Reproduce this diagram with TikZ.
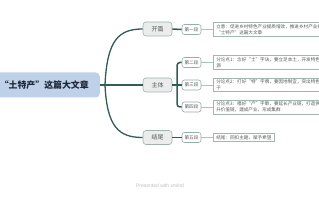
\documentclass[tikz,border=0pt]{standalone}
\usepackage{fontspec}
\setmainfont{Noto Sans CJK SC}
\newfontfamily\wmfont{Liberation Sans}
\definecolor{rootblue}{RGB}{190,209,233}
\definecolor{roottext}{RGB}{30,40,55}
\definecolor{darkteal}{RGB}{47,93,87}
\definecolor{lvfill}{RGB}{234,237,236}
\definecolor{lvborder}{RGB}{160,178,174}
\definecolor{segborder}{RGB}{150,175,170}
\definecolor{tborder}{RGB}{165,180,177}
\definecolor{ttext}{RGB}{85,90,90}
\definecolor{thinline}{RGB}{178,192,189}
\definecolor{wmgrey}{RGB}{190,190,190}
\begin{document}
\begin{tikzpicture}[x=1pt,y=-1pt,
  rootbox/.style={fill=rootblue, rounded corners=4pt, inner xsep=11pt, inner ysep=0pt,
    minimum height=25pt, text=roottext, font=\fontsize{8.9}{9.5}\selectfont\bfseries},
  lvone/.style={fill=lvfill, draw=lvborder, line width=0.6pt, rounded corners=3pt,
    minimum width=29pt, minimum height=14pt, inner sep=0pt, text=ttext,
    font=\fontsize{6}{7}\selectfont},
  seg/.style={fill=white, draw=segborder, line width=0.6pt, rounded corners=2.5pt,
    minimum width=19pt, minimum height=10pt, inner sep=0pt, text=ttext,
    font=\fontsize{4.6}{5}\selectfont},
  tbox/.style={fill=white, draw=tborder, line width=0.5pt, align=left, anchor=west,
    inner xsep=3pt, inner ysep=1.6pt, text=ttext, font=\fontsize{4.6}{6}\selectfont},
  mainline/.style={draw=darkteal, line width=1.3pt},
  branch/.style={draw=darkteal, line width=1.5pt, rounded corners=3pt},
  thinconn/.style={draw=thinline, line width=0.6pt},
  wm/.style={text=wmgrey, font=\wmfont\fontsize{5}{6}\selectfont}
]
\useasboundingbox (0,0) rectangle (319,200);
\clip (0,0) rectangle (319,200);
\fill[white] (0,0) rectangle (319,200);

% root
\node[rootbox, anchor=east] (root) at (100,85) {写好“土特产”这篇大文章};

% level one
\node[lvone] (kp) at (157.5,29) {开篇};
\node[lvone] (zt) at (157.5,85) {主体};
\node[lvone] (jw) at (157.5,137.5) {结尾};

% segments
\node[seg] (s1) at (191.5,29.5) {第一段};
\node[seg] (s2) at (191.5,62.5) {第二段};
\node[seg] (s3) at (191.5,85) {第三段};
\node[seg] (s4) at (191.5,107) {第四段};
\node[seg] (s5) at (191.5,137.5) {第五段};

% text boxes
\node[tbox] (t1) at (213,29.5) {立意：促进乡村特色产业提质增效，推进乡村产业振兴，做好\\“土特产”这篇大文章};
\node[tbox] (t2) at (213,62.5) {分论点1：念好“土”字诀，要立足本土，开发特色资\\源};
\node[tbox] (t3) at (213,85) {分论点2：打好“特”字牌，要因地制宜，突出特色，找准路\\子};
\node[tbox] (t4) at (213,107) {分论点3：唱好“产”字歌，要延长产业链，打造供应链，提\\升价值链，建成产业，形成集群};
\node[tbox] (t5) at (213,137.5) {结尾：回扣主题，赋予希望};

% root connectors
\coordinate (j) at (105,85);
\draw[mainline] (root.east) -- (zt.west);
\draw[mainline] (root.east) -- (j) .. controls +(2,-45) and +(-24,0) .. (kp.west);
\draw[mainline] (root.east) -- (j) .. controls +(2,42) and +(-24,0) .. (jw.west);

% level one to segments
\coordinate (bz) at (177,85);
\draw[branch] (kp.east) -- (s1.west);
\draw[branch] (jw.east) -- (s5.west);
\draw[branch] (zt.east) -- (bz);
\draw[branch] (bz) |- (s2.west);
\draw[branch] (bz) -- (s3.west);
\draw[branch] (bz) |- (s4.west);

% segments to text boxes
\draw[thinconn] (s1.east) -- (t1.west);
\draw[thinconn] (s2.east) -- (t2.west);
\draw[thinconn] (s3.east) -- (t3.west);
\draw[thinconn] (s4.east) -- (t4.west);
\draw[thinconn] (s5.east) -- (t5.west);

% watermark
\node[wm] (wmark) at (160,186) {Presented with xmind};
\end{tikzpicture}
\end{document}
